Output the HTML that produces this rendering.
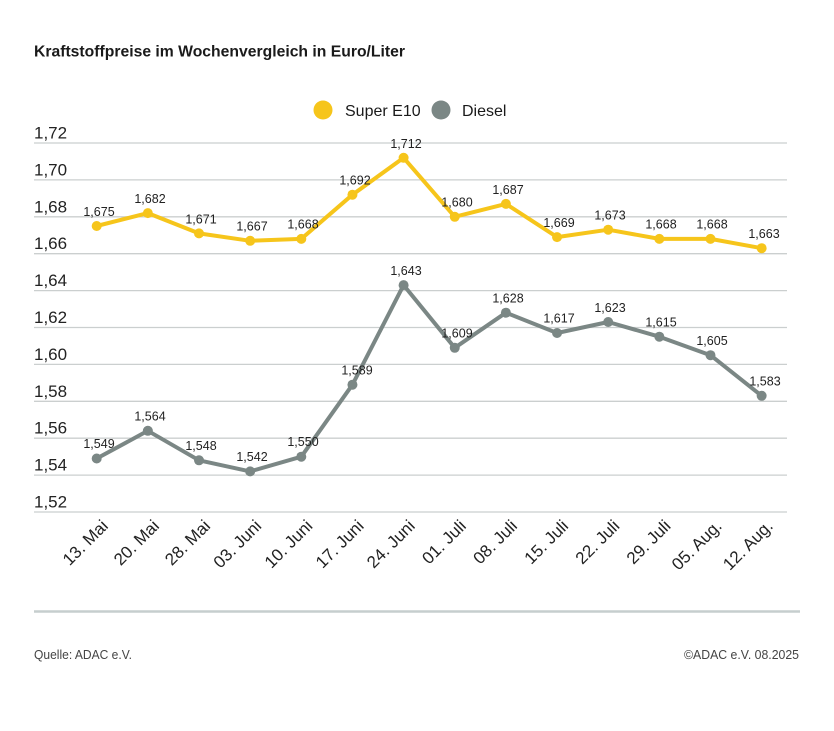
<!DOCTYPE html>
<html><head><meta charset="utf-8"><style>
html,body{margin:0;padding:0;background:#fff;}
svg{display:block;}
text{font-family:"Liberation Sans",sans-serif;}
</style></head><body>
<svg width="834" height="731" viewBox="0 0 834 731" xmlns="http://www.w3.org/2000/svg">
<rect width="834" height="731" fill="#fff"/>
<text x="34" y="56.5" font-size="16" font-weight="bold" fill="#1a1a1a" textLength="371" lengthAdjust="spacingAndGlyphs">Kraftstoffpreise im Wochenvergleich in Euro/Liter</text>

<circle cx="323" cy="110" r="9.5" fill="#f6c51b"/>
<text x="345" y="116" font-size="16" fill="#1a1a1a">Super E10</text>
<circle cx="441" cy="110" r="9.5" fill="#7b8785"/>
<text x="462" y="116" font-size="16" fill="#1a1a1a">Diesel</text>

<g stroke="#cbcfcf" stroke-width="1.3">
<line x1="34" x2="787" y1="143" y2="143"/>
<line x1="34" x2="787" y1="179.9" y2="179.9"/>
<line x1="34" x2="787" y1="216.8" y2="216.8"/>
<line x1="34" x2="787" y1="253.7" y2="253.7"/>
<line x1="34" x2="787" y1="290.6" y2="290.6"/>
<line x1="34" x2="787" y1="327.5" y2="327.5"/>
<line x1="34" x2="787" y1="364.4" y2="364.4"/>
<line x1="34" x2="787" y1="401.3" y2="401.3"/>
<line x1="34" x2="787" y1="438.2" y2="438.2"/>
<line x1="34" x2="787" y1="475.1" y2="475.1"/>
<line x1="34" x2="787" y1="512" y2="512"/>
</g>
<g font-size="17" fill="#222">
<text x="34" y="138.5">1,72</text>
<text x="34" y="175.4">1,70</text>
<text x="34" y="212.3">1,68</text>
<text x="34" y="249.2">1,66</text>
<text x="34" y="286.1">1,64</text>
<text x="34" y="323">1,62</text>
<text x="34" y="359.9">1,60</text>
<text x="34" y="396.8">1,58</text>
<text x="34" y="433.7">1,56</text>
<text x="34" y="470.6">1,54</text>
<text x="34" y="507.5">1,52</text>
</g>

<polyline fill="none" stroke="#f6c51b" stroke-width="4" stroke-linejoin="round" points="96.7,226 147.85,213.1 199,233.4 250.15,240.8 301.3,238.9 352.45,194.7 403.6,157.8 454.75,216.8 505.9,203.9 557.05,237.1 608.2,229.7 659.35,238.9 710.5,238.9 761.65,248.2"/>
<g fill="#f6c51b">
<circle cx="96.7" cy="226" r="5"/><circle cx="147.85" cy="213.1" r="5"/><circle cx="199" cy="233.4" r="5"/><circle cx="250.15" cy="240.8" r="5"/><circle cx="301.3" cy="238.9" r="5"/><circle cx="352.45" cy="194.7" r="5"/><circle cx="403.6" cy="157.8" r="5"/><circle cx="454.75" cy="216.8" r="5"/><circle cx="505.9" cy="203.9" r="5"/><circle cx="557.05" cy="237.1" r="5"/><circle cx="608.2" cy="229.7" r="5"/><circle cx="659.35" cy="238.9" r="5"/><circle cx="710.5" cy="238.9" r="5"/><circle cx="761.65" cy="248.2" r="5"/>
</g>

<polyline fill="none" stroke="#7b8785" stroke-width="4" stroke-linejoin="round" points="96.7,458.5 147.85,430.8 199,460.3 250.15,471.4 301.3,456.7 352.45,384.7 403.6,285.1 454.75,347.8 505.9,312.7 557.05,333 608.2,322 659.35,336.7 710.5,355.2 761.65,395.8"/>
<g fill="#7b8785">
<circle cx="96.7" cy="458.5" r="5"/><circle cx="147.85" cy="430.8" r="5"/><circle cx="199" cy="460.3" r="5"/><circle cx="250.15" cy="471.4" r="5"/><circle cx="301.3" cy="456.7" r="5"/><circle cx="352.45" cy="384.7" r="5"/><circle cx="403.6" cy="285.1" r="5"/><circle cx="454.75" cy="347.8" r="5"/><circle cx="505.9" cy="312.7" r="5"/><circle cx="557.05" cy="333" r="5"/><circle cx="608.2" cy="322" r="5"/><circle cx="659.35" cy="336.7" r="5"/><circle cx="710.5" cy="355.2" r="5"/><circle cx="761.65" cy="395.8" r="5"/>
</g>

<g font-size="12.5" fill="#222" text-anchor="middle">
<text x="99" y="216">1,675</text>
<text x="150" y="203">1,682</text>
<text x="201" y="223.5">1,671</text>
<text x="252" y="230.5">1,667</text>
<text x="303" y="228.5">1,668</text>
<text x="355" y="184.5">1,692</text>
<text x="406" y="148">1,712</text>
<text x="457" y="206.5">1,680</text>
<text x="508" y="194">1,687</text>
<text x="559" y="227">1,669</text>
<text x="610" y="219.5">1,673</text>
<text x="661" y="228.5">1,668</text>
<text x="712" y="228.5">1,668</text>
<text x="764" y="238">1,663</text>

<text x="99" y="448">1,549</text>
<text x="150" y="420.5">1,564</text>
<text x="201" y="450">1,548</text>
<text x="252" y="461">1,542</text>
<text x="303" y="446">1,550</text>
<text x="357" y="374.5">1,589</text>
<text x="406" y="275">1,643</text>
<text x="457" y="337.5">1,609</text>
<text x="508" y="302.5">1,628</text>
<text x="559" y="322.5">1,617</text>
<text x="610" y="312">1,623</text>
<text x="661" y="326.5">1,615</text>
<text x="712" y="345">1,605</text>
<text x="765" y="385.5">1,583</text>
</g>

<g font-size="17" fill="#222" text-anchor="end">
<text transform="translate(109,527) rotate(-45)">13. Mai</text>
<text transform="translate(160.15,527) rotate(-45)">20. Mai</text>
<text transform="translate(211.3,527) rotate(-45)">28. Mai</text>
<text transform="translate(262.45,527) rotate(-45)">03. Juni</text>
<text transform="translate(313.6,527) rotate(-45)">10. Juni</text>
<text transform="translate(364.75,527) rotate(-45)">17. Juni</text>
<text transform="translate(415.9,527) rotate(-45)">24. Juni</text>
<text transform="translate(467.05,527) rotate(-45)">01. Juli</text>
<text transform="translate(518.2,527) rotate(-45)">08. Juli</text>
<text transform="translate(569.35,527) rotate(-45)">15. Juli</text>
<text transform="translate(620.5,527) rotate(-45)">22. Juli</text>
<text transform="translate(671.65,527) rotate(-45)">29. Juli</text>
<text transform="translate(722.8,527) rotate(-45)">05. Aug.</text>
<text transform="translate(773.95,527) rotate(-45)">12. Aug.</text>
</g>

<line x1="34" x2="800" y1="611.5" y2="611.5" stroke="#c6cece" stroke-width="2.5"/>
<text x="34" y="659" font-size="13" fill="#444" textLength="98" lengthAdjust="spacingAndGlyphs">Quelle: ADAC e.V.</text>
<text x="684" y="659" font-size="13" fill="#444" textLength="115" lengthAdjust="spacingAndGlyphs">©ADAC e.V. 08.2025</text>
</svg>
</body></html>
